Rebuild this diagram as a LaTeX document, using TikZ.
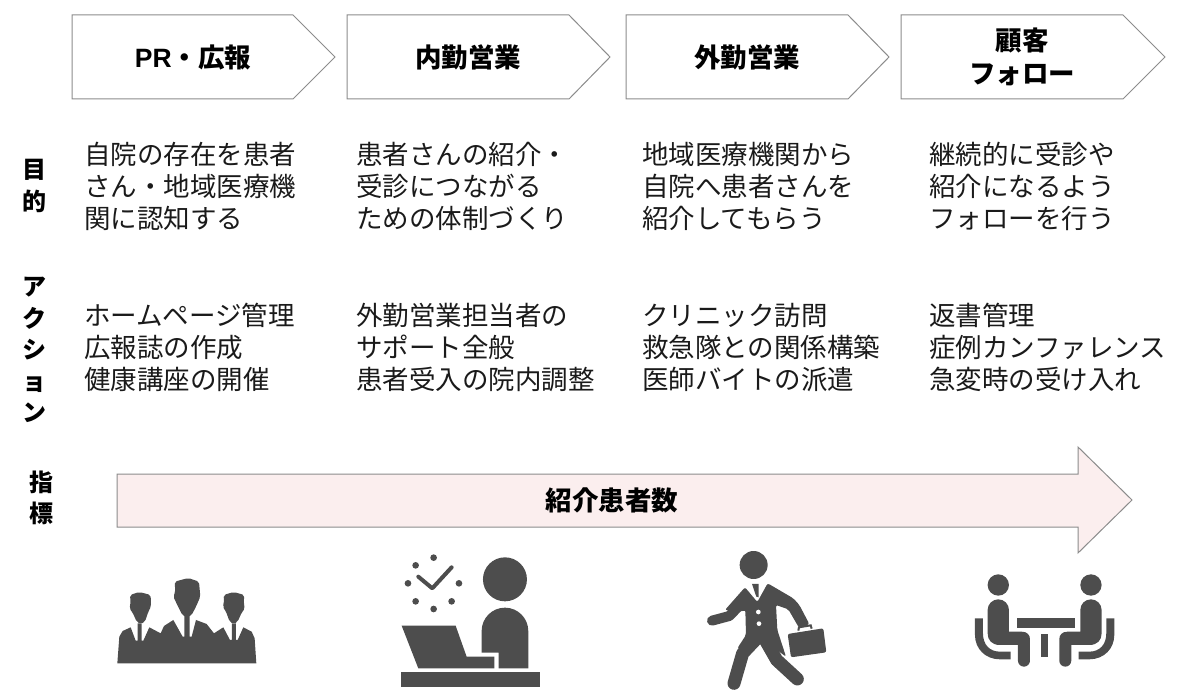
\documentclass[tikz,border=0pt]{standalone}
\usepackage{fontspec}
\setmainfont{Noto Sans CJK JP}
\newfontfamily\latinbold{Liberation Sans}[BoldFont={Liberation Sans Bold}]
\definecolor{ink}{HTML}{4D4D4D}
\definecolor{edge}{HTML}{8C8C8C}
\definecolor{pinkfill}{HTML}{FBEEEE}
\definecolor{txt}{HTML}{1A1A1A}
\tikzset{
  x=1pt,y=-1pt,
  pent/.style={draw=edge,line width=1pt,fill=white,line join=miter},
  headtext/.style={font=\fontsize{26.5}{33}\selectfont\bfseries,text=black,align=center,anchor=center,inner sep=0},
  bodytext/.style={font=\fontsize{26.5}{32}\selectfont,text=txt,align=left,anchor=west,inner sep=0},
  sidetext/.style={font=\fontsize{24}{31.5}\selectfont\bfseries,text=black,align=center,anchor=center,inner sep=0},
  icon/.style={fill=ink,draw=none},
  limb/.style={draw=ink,line cap=round,line join=round},
  zoomed/.style={x=0.3333pt,y=-0.3333pt}
}
\begin{document}
\begin{tikzpicture}
\useasboundingbox (0,0) rectangle (1200,690);
% pentagons
\draw[pent] (72,15)--(293,15)--(335,57)--(293,99)--(72,99)--cycle;
\draw[pent] (347,15)--(569,15)--(610,57)--(569,99)--(347,99)--cycle;
\draw[pent] (626,15)--(848,15)--(889,57)--(848,99)--(626,99)--cycle;
\draw[pent] (901,15)--(1123,15)--(1165,57)--(1123,99)--(901,99)--cycle;
\node[headtext] (h1) at (193,57) {{\latinbold\bfseries PR}・広報};
\node[headtext] (h2) at (468,57) {内勤営業};
\node[headtext] (h3) at (747,57) {外勤営業};
\node[headtext] (h4) at (1022,57) {顧客\\フォロー};
% side labels
\node[sidetext] (s1) at (35,186) {目\\的};
\node[sidetext] (s2) at (35,350) {ア\\ク\\シ\\ョ\\ン};
\node[sidetext] (s3) at (41,498) {指\\標};
% purpose
\node[bodytext] (p1) at (84,186) {自院の存在を患者\\さん・地域医療機\\関に認知する};
\node[bodytext] (p2) at (356,186) {患者さんの紹介・\\受診につながる\\ための体制づくり};
\node[bodytext] (p3) at (642,186) {地域医療機関から\\自院へ患者さんを\\紹介してもらう};
\node[bodytext] (p4) at (929,186) {継続的に受診や\\紹介になるよう\\フォローを行う};
% actions
\node[bodytext] (a1) at (84,347.5) {ホームページ管理\\広報誌の作成\\健康講座の開催};
\node[bodytext] (a2) at (356,347.5) {外勤営業担当者の\\サポート全般\\患者受入の院内調整};
\node[bodytext] (a3) at (642,347.5) {クリニック訪問\\救急隊との関係構築\\医師バイトの派遣};
\node[bodytext] (a4) at (929,347.5) {返書管理\\症例カンファレンス\\急変時の受け入れ};
% KPI arrow
\draw[draw=edge,line width=1pt,fill=pinkfill] (117,474)--(1078,474)--(1078,447)--(1132,500)--(1078,553)--(1078,527)--(117,527)--cycle;
\node[headtext] (k) at (612,500) {紹介患者数};
% icon 1: three men
\begin{scope}[shift={(90,540)},zoomed]
\fill[icon] (82,370)--(88,290)--(98,273)--(122,262)--(137,302)--(143,302)--(143,250)--(155,250)--(155,302)--(160,302)--(178,262)--(212,280)--(222,258)--(250,240)--(278,290)--(283,290)--(283,228)--(299,228)--(299,290)--(305,290)--(318,240)--(350,252)--(372,280)--(400,262)--(420,300)--(426,300)--(426,250)--(438,250)--(438,300)--(443,300)--(460,262)--(485,275)--(494,295)--(499,370)--cycle;
\fill[icon,rounded corners=2pt] (120,165)--(148,156)--(182,165)--(183,200)--(175,215)--(165,245)--(152,252)--(140,245)--(128,218)--(118,205)--(122,190)--cycle;
\fill[icon,rounded corners=2pt] (401,165)--(431,156)--(463,165)--(461,190)--(465,205)--(455,218)--(443,245)--(431,252)--(419,245)--(408,215)--(398,200)--(402,190)--cycle;
\fill[icon,rounded corners=2pt] (254,125)--(295,114)--(327,125)--(331,170)--(318,200)--(305,225)--(291,232)--(277,225)--(262,195)--(250,170)--(256,155)--cycle;
\end{scope}
% icon 2: desk worker
\begin{scope}[shift={(90,540)},zoomed]
\fill[icon] (1245,118) circle[radius=66];
\fill[icon] (1175,338)--(1175,273) arc[start angle=180,end angle=360,radius=70]--(1315,385)--(1226,385)--(1226,338)--cycle;
\fill[icon] (935,257)--(1097,257)--(1130,350)--(1213,350)--(1213,385)--(985,385)--cycle;
\fill[icon] (933,396) rectangle (1351,440);
\foreach \cx/\cy in {1031/53,977/76,954/130,977/184,1031/207,1085/184,1107/130}
  \fill[icon] (\cx,\cy) circle[radius=10];
\draw[limb,line width=4pt] (985,110)--(1027,145)--(1085,82);
\end{scope}
% icon 3: walking businessman
\begin{scope}[shift={(680,540)},zoomed]
\fill[icon] (221,75) circle[radius=42];
\fill[icon,rounded corners=2pt] (195,142)--(232,186)--(263,130)--(340,175)--(358,195)--(388,252)--(358,265)--(325,208)--(288,195)--(292,270)--(318,350)--(250,300)--(240,315)--(172,325)--(198,285)--(196,210)--(185,215)--(135,210)--cycle;
\draw[limb,line width=10pt] (96,242)--(148,228)--(180,195);
\draw[limb,line width=13pt] (162,430)--(188,340)--(240,285);
\draw[limb,line width=13pt] (352,417)--(290,360)--(250,290);
\fill[icon] (216,132)--(236,132)--(236,172)--(229,170)--(222,150)--cycle;
\fill[white] (235,216) circle[radius=7];
\fill[white] (237,251) circle[radius=7];
\fill[icon,rounded corners=2pt] (323,282)--(430,265)--(439,337)--(333,352)--cycle;
\draw[ink,line width=2pt] (355,272)--(357,262)--(392,256)--(395,266);
\end{scope}
% icon 4: meeting
\begin{scope}[shift={(680,540)},zoomed]
\fill[icon] (955,135) circle[radius=32];
\fill[icon] (1233,135) circle[radius=32];
\fill[icon] (1010,235) rectangle (1184,265);
\fill[icon] (1084,281) rectangle (1104,351);
\fill[icon] (923,210) arc[start angle=180,end angle=360,radius=32]--(987,275)--(1025,275) .. controls (1042,275) and (1050,285) .. (1050,298)--(1050,362) arc[start angle=0,end angle=180,radius=18]--(1014,315)--(960,315) .. controls (935,315) and (923,300) .. (923,280)--cycle;
\fill[icon] (1265,210) arc[start angle=360,end angle=180,radius=32]--(1201,275)--(1163,275) .. controls (1146,275) and (1138,285) .. (1138,298)--(1138,362) arc[start angle=180,end angle=0,radius=18]--(1174,315)--(1228,315) .. controls (1253,315) and (1265,300) .. (1265,280)--cycle;
\fill[icon] (885,235)--(909,235)--(909,280) .. controls (909,315) and (930,335) .. (960,335)--(992,335)--(992,358)--(960,358) .. controls (915,358) and (885,325) .. (885,285)--cycle;
\fill[icon] (1303,235)--(1279,235)--(1279,280) .. controls (1279,315) and (1258,335) .. (1228,335)--(1196,335)--(1196,358)--(1228,358) .. controls (1273,358) and (1303,325) .. (1303,285)--cycle;
\end{scope}
\end{tikzpicture}
\end{document}
